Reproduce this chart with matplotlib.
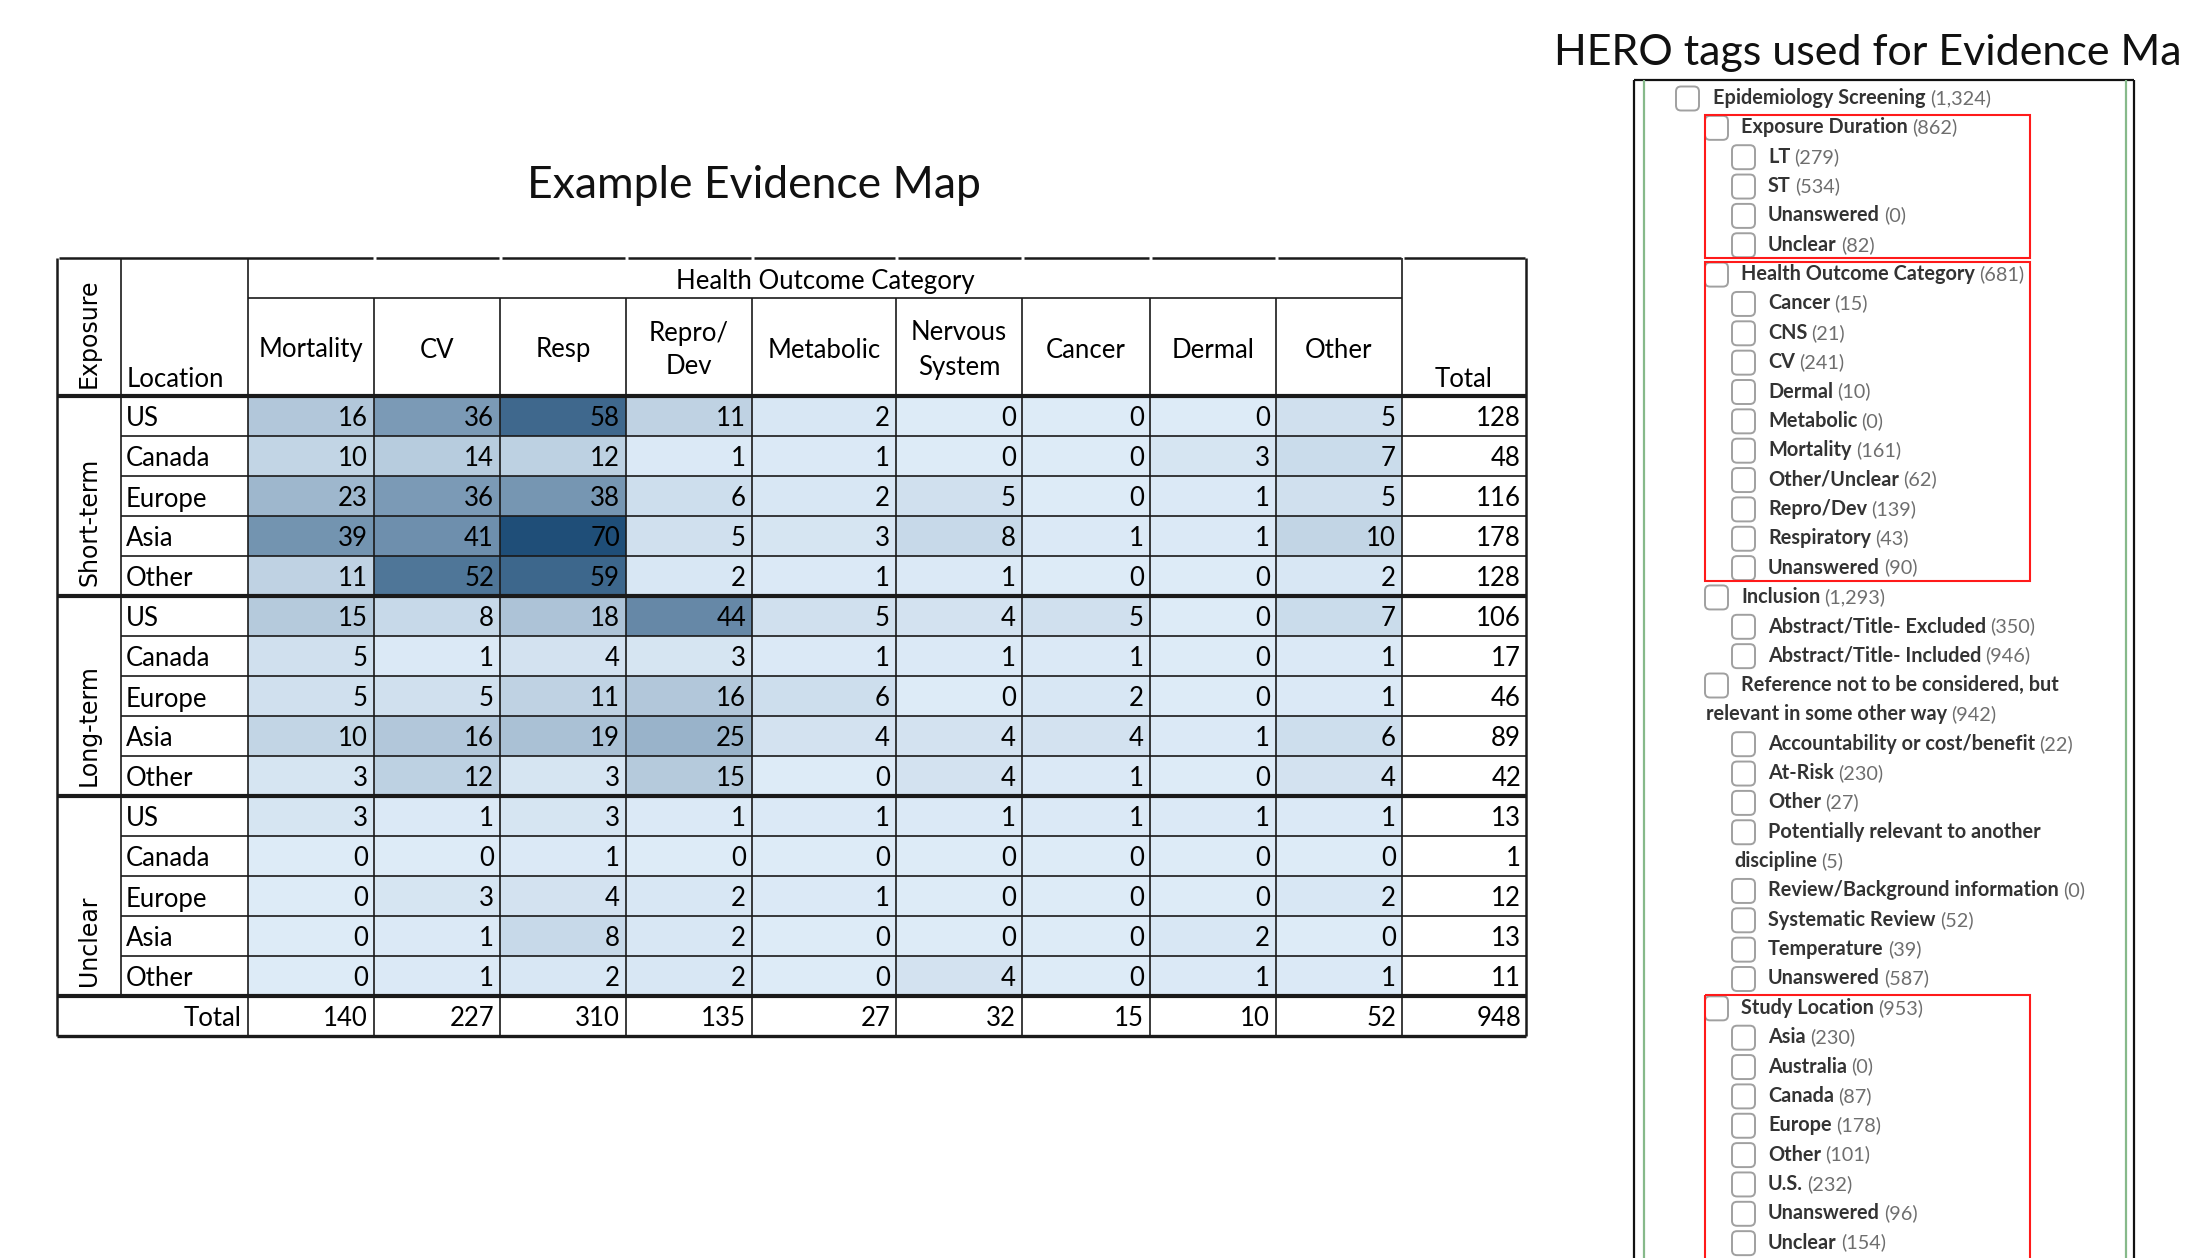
import matplotlib
matplotlib.use("Agg")
import matplotlib.pyplot as plt
from matplotlib.colors import LinearSegmentedColormap
from matplotlib.patches import FancyBboxPatch, Rectangle
import numpy as np

# ---------------- data ----------------
exposures = ["Short-term", "Long-term", "Unclear"]
locations = ["US", "Canada", "Europe", "Asia", "Other"]
outcomes = ["Mortality", "CV", "Resp", "Repro/\nDev", "Metabolic",
            "Nervous\nSystem", "Cancer", "Dermal", "Other"]

short_term = [[16, 36, 58, 11, 2, 0, 0, 0, 5],
              [10, 14, 12, 1, 1, 0, 0, 3, 7],
              [23, 36, 38, 6, 2, 5, 0, 1, 5],
              [39, 41, 70, 5, 3, 8, 1, 1, 10],
              [11, 52, 59, 2, 1, 1, 0, 0, 2]]
long_term = [[15, 8, 18, 44, 5, 4, 5, 0, 7],
             [5, 1, 4, 3, 1, 1, 1, 0, 1],
             [5, 5, 11, 16, 6, 0, 2, 0, 1],
             [10, 16, 19, 25, 4, 4, 4, 1, 6],
             [3, 12, 3, 15, 0, 4, 1, 0, 4]]
unclear = [[3, 1, 3, 1, 1, 1, 1, 1, 1],
           [0, 0, 1, 0, 0, 0, 0, 0, 0],
           [0, 3, 4, 2, 1, 0, 0, 0, 2],
           [0, 1, 8, 2, 0, 0, 0, 2, 0],
           [0, 1, 2, 2, 0, 4, 0, 1, 1]]
row_totals = [128, 48, 116, 178, 128, 106, 17, 46, 89, 42, 13, 1, 12, 13, 11]
col_totals = [140, 227, 310, 135, 27, 32, 15, 10, 52]
grand_total = 948

tree_levels = [0, 1, 2, 2, 2, 2, 1, 2, 2, 2, 2, 2, 2, 2, 2, 2, 2, 1, 2, 2,
               1, -1, 2, 2, 2, 2, -2, 2, 2, 2, 2, 1, 2, 2, 2, 2, 2, 2, 2, 2]
tree_labels = ["Epidemiology Screening", "Exposure Duration", "LT", "ST",
               "Unanswered", "Unclear", "Health Outcome Category", "Cancer",
               "CNS", "CV", "Dermal", "Metabolic", "Mortality",
               "Other/Unclear", "Repro/Dev", "Respiratory", "Unanswered",
               "Inclusion", "Abstract/Title- Excluded",
               "Abstract/Title- Included",
               "Reference not to be considered, but",
               "relevant in some other way",
               "Accountability or cost/benefit", "At-Risk", "Other",
               "Potentially relevant to another", "discipline",
               "Review/Background information", "Systematic Review",
               "Temperature", "Unanswered", "Study Location", "Asia",
               "Australia", "Canada", "Europe", "Other", "U.S.",
               "Unanswered", "Unclear"]
tree_counts = [1324, 862, 279, 534, 0, 82, 681, 15, 21, 241, 10, 0, 161, 62,
               139, 43, 90, 1293, 350, 946, None, 942, 22, 230, 27, None, 5,
               0, 52, 39, 587, 953, 230, 0, 87, 178, 101, 232, 96, 154]
# red highlight boxes: (first item, last item)  -- last None = runs off page
red_groups = [(1, 5), (6, 16), (31, None)]

main_title = "Example Evidence Map"
side_title = "HERO tags used for Evidence Ma"   # cut at the page edge in the original

# ---------------- figure ----------------
W, H = 2186, 1258
plt.rcParams["font.family"] = ["Lato", "DejaVu Sans"]
fig = plt.figure(figsize=(W / 100, H / 100), dpi=100)
ax = fig.add_axes([0, 0, 1, 1])
ax.set_xlim(0, W)
ax.set_ylim(H, 0)
ax.axis("off")

# ---------------- table ----------------
col_edges = [57, 121, 248, 374, 500, 626, 752, 896, 1022, 1150, 1276, 1402, 1526]
table_top, hoc_bottom, head_bottom, row_h = 258, 298, 396, 40
counts = np.array(short_term + long_term + unclear)
n_rows = counts.shape[0]
row_edges = head_bottom + row_h * np.arange(n_rows + 1)
table_bottom = row_edges[-1] + row_h

cmap = LinearSegmentedColormap.from_list("excel", ["#DDEBF7", "#1F4E78"])
ax.pcolormesh(col_edges[2:12], row_edges, counts, cmap=cmap, vmin=0,
              vmax=counts.max(), shading="flat", zorder=1)

lc = "#1a1a1a"
thin, thick, outer = 1.2, 3.0, 1.8
segs = [(col_edges[0], col_edges[3])] + [(col_edges[i], col_edges[i + 1]) for i in range(3, 12)]
for a, b in segs:
    ax.plot([a + 1.5, b - 1.5], [table_top, table_top], color=lc, lw=outer,
            solid_capstyle="butt", zorder=3)
ax.vlines([col_edges[0], col_edges[-1]], table_top, table_bottom, color=lc, lw=outer, zorder=3)
ax.hlines(table_bottom, col_edges[0], col_edges[-1], color=lc, lw=2.4, zorder=3)
ax.hlines(hoc_bottom, col_edges[2], col_edges[11], color=lc, lw=thin, zorder=3)
ax.vlines(col_edges[1], table_top, row_edges[-1], color=lc, lw=thin, zorder=3)
ax.vlines([col_edges[2], col_edges[11]], table_top, table_bottom, color=lc, lw=thin, zorder=3)
ax.vlines(col_edges[3:11], hoc_bottom, table_bottom, color=lc, lw=thin, zorder=3)
for r in range(1, n_rows):
    if r % len(locations):
        ax.hlines(row_edges[r], col_edges[1], col_edges[-1], color=lc, lw=thin, zorder=3)
for r in range(0, n_rows + 1, len(locations)):
    ax.hlines(row_edges[r], col_edges[0], col_edges[-1], color=lc, lw=thick, zorder=4)

fs = 18.5
rot_font = ["DejaVu Sans"]
# headers
ax.text((col_edges[2] + col_edges[11]) / 2, (table_top + hoc_bottom) / 2 + 3,
        "Health Outcome Category", ha="center", va="center", fontsize=fs)
for j, name in enumerate(outcomes):
    ax.text((col_edges[j + 2] + col_edges[j + 3]) / 2, (hoc_bottom + head_bottom) / 2 + 3,
            name, ha="center", va="center", fontsize=fs, linespacing=1.45)
ax.text(col_edges[1] + 6, head_bottom - 4, "Location", ha="left", va="bottom", fontsize=fs)
ax.text((col_edges[11] + col_edges[12]) / 2, head_bottom - 4, "Total",
        ha="center", va="bottom", fontsize=fs)
ax.text((col_edges[0] + col_edges[1]) / 2, head_bottom - 8, "Exposure", rotation=90,
        ha="center", va="bottom", fontsize=17, family=rot_font)

# group labels
for g, name in enumerate(exposures):
    ax.text((col_edges[0] + col_edges[1]) / 2, row_edges[(g + 1) * len(locations)] - 10,
            name, rotation=90, ha="center", va="bottom", fontsize=17, family=rot_font)

# body
for i in range(n_rows):
    yc = (row_edges[i] + row_edges[i + 1]) / 2 + 3
    ax.text(col_edges[1] + 5, yc, locations[i % len(locations)], ha="left",
            va="center", fontsize=fs, zorder=5)
    for j in range(counts.shape[1]):
        ax.text(col_edges[j + 3] - 6, yc, str(counts[i, j]), ha="right",
                va="center", fontsize=fs, zorder=5)
    ax.text(col_edges[12] - 5, yc, str(row_totals[i]), ha="right",
            va="center", fontsize=fs, zorder=5)

yc = (row_edges[-1] + table_bottom) / 2 + 3
ax.text(col_edges[2] - 6, yc, "Total", ha="right", va="center", fontsize=fs)
for j, v in enumerate(col_totals):
    ax.text(col_edges[j + 3] - 6, yc, str(v), ha="right", va="center", fontsize=fs)
ax.text(col_edges[12] - 5, yc, str(grand_total), ha="right", va="center", fontsize=fs)

ax.text(754, 186, main_title, ha="center", va="center", fontsize=32, color="#111111")

# ---------------- HERO tag tree ----------------
ax.text(1554, 53, side_title, ha="left", va="center", fontsize=31, color="#111111")

frame_l, frame_r, frame_t = 1634, 2134, 80
ax.vlines([frame_l, frame_r], frame_t, H + 5, color="#111111", lw=1.6, zorder=2)
ax.hlines(frame_t, frame_l, frame_r, color="#111111", lw=1.6, zorder=2)
ax.vlines([frame_l + 10, frame_r - 8], frame_t, H + 5, color="#86b98a", lw=1.6, zorder=2)

line0, line_dy = 98.5, 29.35
cb_x = {0: 1676, 1: 1705, 2: 1732}
txt_x = {0: 1713, 1: 1741, 2: 1768, -1: 1706, -2: 1734}
tfs = 14.3
for k, (lev, lab, cnt) in enumerate(zip(tree_levels, tree_labels, tree_counts)):
    yc = line0 + k * line_dy
    if lev >= 0:
        ax.add_patch(FancyBboxPatch((cb_x[lev], yc - 12), 23, 24,
                                    boxstyle="round,pad=0,rounding_size=5",
                                    fc="white", ec="#a0a0a0", lw=1.4, zorder=5))
    t = ax.text(txt_x[lev], yc + 5.5, lab, ha="left", va="baseline", fontsize=tfs,
                fontweight="bold", color="#333333", zorder=6)
    if cnt is not None:
        ax.annotate("({:,})".format(cnt), xy=(1, yc + 5.5), xycoords=(t, "data"),
                    xytext=(3, 0), textcoords="offset points", ha="left",
                    va="baseline", fontsize=tfs, color="#6e6e6e", zorder=6)

for first, last in red_groups:
    top = line0 + first * line_dy - 13
    bot = (line0 + last * line_dy + 13) if last is not None else H + 10
    ax.add_patch(Rectangle((1705, top), 2030 - 1705, bot - top, fill=False,
                           ec="#ff1a1a", lw=1.5, zorder=7))

fig.savefig("out.png", dpi=100)
